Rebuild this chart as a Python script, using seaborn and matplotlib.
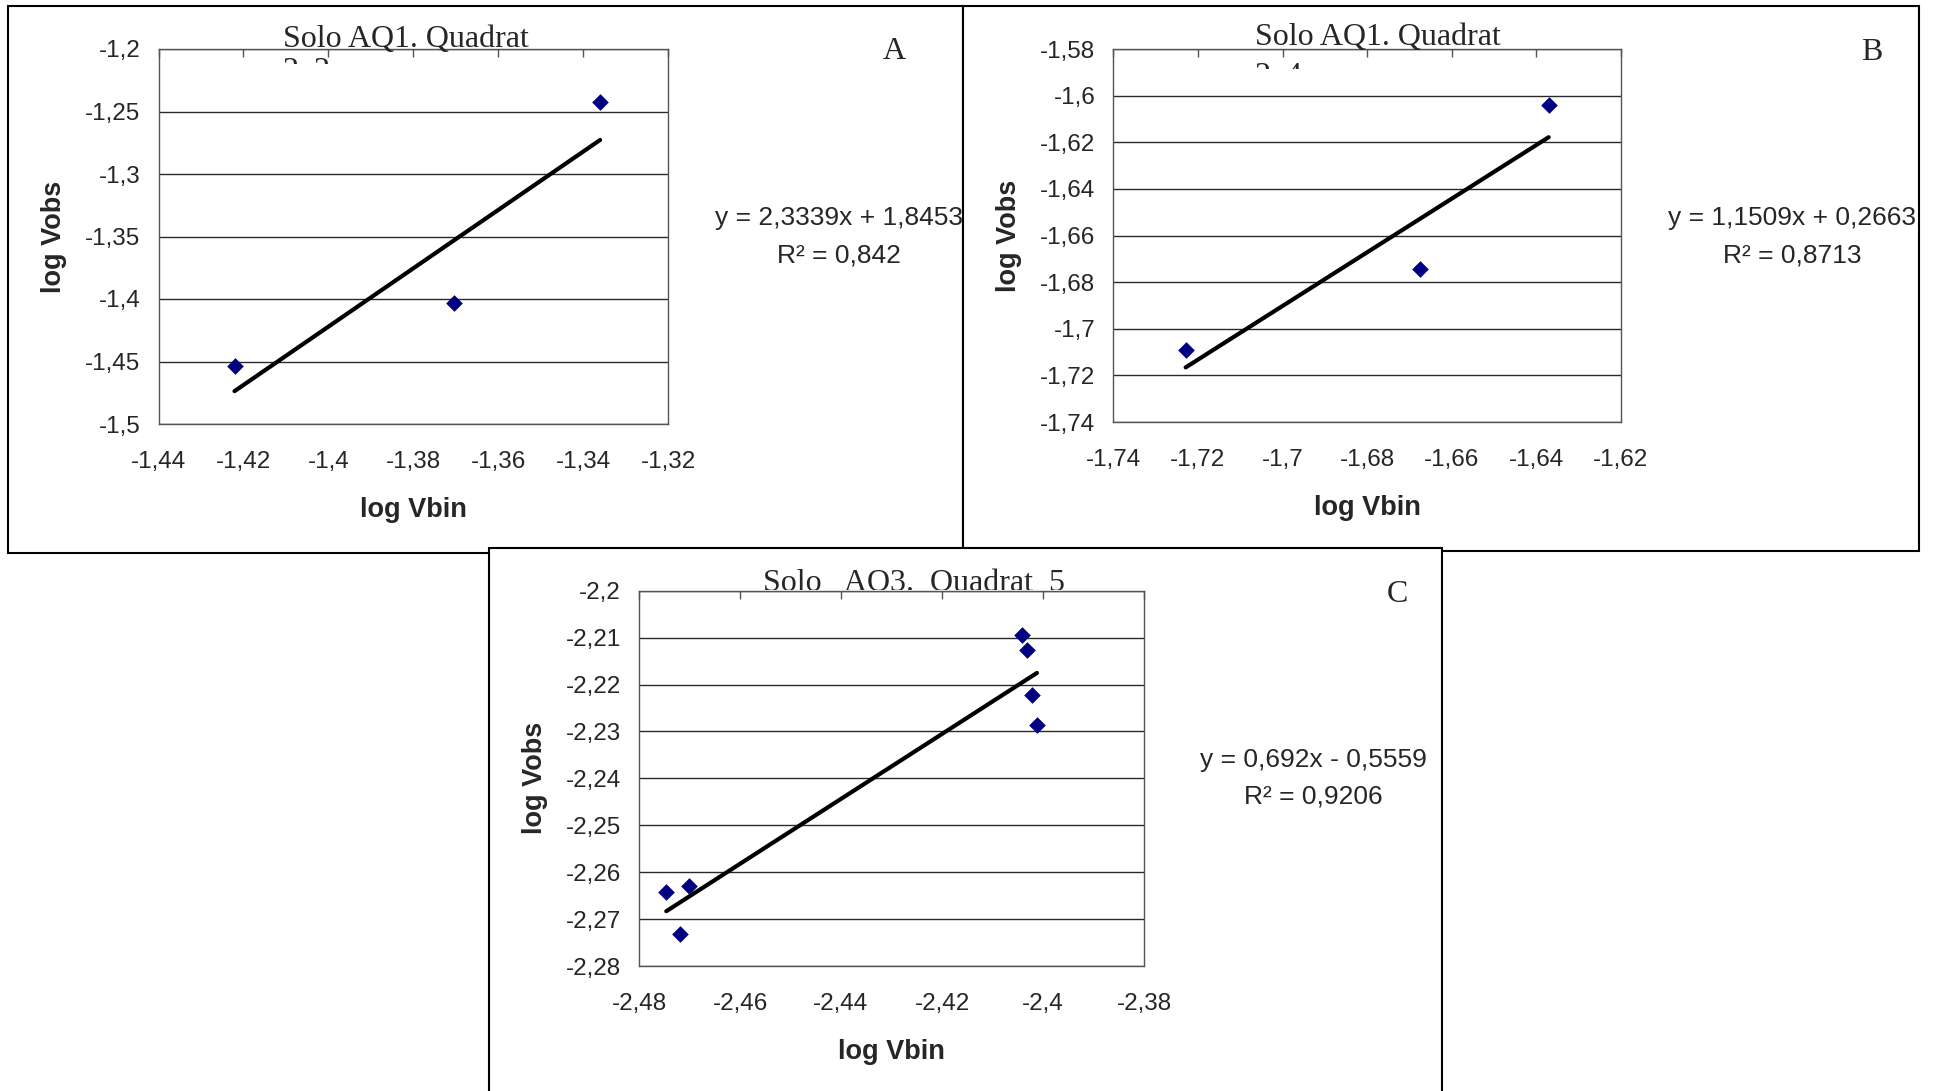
import matplotlib
matplotlib.use("Agg")
import matplotlib.pyplot as plt
import seaborn as sns
import numpy as np
import pandas as pd
from matplotlib.patches import Rectangle
from matplotlib.transforms import Bbox, TransformedBbox
from matplotlib.ticker import FixedLocator, FixedFormatter

# ---- Panel A: Solo AQ1, quadrat 2x2 ----
a_log_vbin = [-1.4221, -1.3703, -1.3360]
a_log_vobs = [-1.4539, -1.4031, -1.2427]
a_fit = [2.3339, 1.8453, 0.842]          # slope, intercept, R²
a_xticks = [-1.44, -1.42, -1.40, -1.38, -1.36, -1.34, -1.32]
a_xlabels = ["-1,44", "-1,42", "-1,4", "-1,38", "-1,36", "-1,34", "-1,32"]
a_yticks = [-1.50, -1.45, -1.40, -1.35, -1.30, -1.25, -1.20]
a_ylabels = ["-1,5", "-1,45", "-1,4", "-1,35", "-1,3", "-1,25", "-1,2"]

# ---- Panel B: Solo AQ1, quadrat 2x4 ----
b_log_vbin = [-1.7229, -1.6674, -1.6371]
b_log_vobs = [-1.7092, -1.6744, -1.6042]
b_fit = [1.1509, 0.2663, 0.8713]
b_xticks = [-1.74, -1.72, -1.70, -1.68, -1.66, -1.64, -1.62]
b_xlabels = ["-1,74", "-1,72", "-1,7", "-1,68", "-1,66", "-1,64", "-1,62"]
b_yticks = [-1.74, -1.72, -1.70, -1.68, -1.66, -1.64, -1.62, -1.60, -1.58]
b_ylabels = ["-1,74", "-1,72", "-1,7", "-1,68", "-1,66", "-1,64", "-1,62", "-1,6", "-1,58"]

# ---- Panel C: Solo AQ3, quadrat 5 ----
c_log_vbin = [-2.4746, -2.4701, -2.4718, -2.4041, -2.4032, -2.4021, -2.4012]
c_log_vobs = [-2.2643, -2.2630, -2.2732, -2.2095, -2.2127, -2.2222, -2.2287]
c_fit = [0.692, -0.5559, 0.9206]
c_xticks = [-2.48, -2.46, -2.44, -2.42, -2.40, -2.38]
c_xlabels = ["-2,48", "-2,46", "-2,44", "-2,42", "-2,4", "-2,38"]
c_yticks = [-2.28, -2.27, -2.26, -2.25, -2.24, -2.23, -2.22, -2.21, -2.20]
c_ylabels = ["-2,28", "-2,27", "-2,26", "-2,25", "-2,24", "-2,23", "-2,22", "-2,21", "-2,2"]

W, H = 1936, 1091

sns.set_style("white")
plt.rcParams["font.family"] = ["Liberation Sans", "DejaVu Sans"]

fig = plt.figure(figsize=(W / 100, H / 100), dpi=100)


def px_rect(left, top, right, bottom):
    return [left / W, 1 - bottom / H, (right - left) / W, (bottom - top) / H]


def fmt_num(v, digits):
    return f"{abs(v):.{digits}f}".rstrip("0").rstrip(".").replace(".", ",")


def equation_text(fit):
    slope, intercept, r2 = fit
    sign = "+" if intercept >= 0 else "-"
    return (f"y = {fmt_num(slope, 4)}x {sign} {fmt_num(intercept, 4)}",
            f"R² = {fmt_num(r2, 4)}")


def add_frame(left, top, right, bottom, z):
    fig.add_artist(Rectangle((left / W, 1 - bottom / H), (right - left) / W,
                             (bottom - top) / H, transform=fig.transFigure,
                             facecolor="white", edgecolor="black",
                             linewidth=1.5, zorder=z))


def clipped_text(x, baseline, s, clip_y):
    t = fig.text(x / W, 1 - baseline / H, s, fontsize=23,
                 family=["Liberation Serif", "DejaVu Serif"],
                 ha="left", va="baseline")
    t.set_clip_box(TransformedBbox(Bbox.from_extents(0, 1 - clip_y / H, 1, 1),
                                   fig.transFigure))
    t.set_clip_on(True)
    return t


def draw_panel(rect, xs, ys, fit, xticks, xlabels, yticks, ylabels):
    ax = fig.add_axes(px_rect(*rect))
    df = pd.DataFrame({"log Vbin": xs, "log Vobs": ys})
    slope, intercept, _ = fit
    xfit = np.array([min(xs), max(xs)])
    sns.lineplot(x=xfit, y=slope * xfit + intercept, ax=ax, color="black",
                 lw=3.0, solid_capstyle="round", zorder=2)
    sns.scatterplot(data=df, x="log Vbin", y="log Vobs", ax=ax, marker="D",
                    s=72, color="#000080", linewidth=0, zorder=3)
    ax.set_xlim(xticks[0], xticks[-1])
    ax.set_ylim(yticks[0], yticks[-1])
    ax.xaxis.set_major_locator(FixedLocator(xticks))
    ax.xaxis.set_major_formatter(FixedFormatter(xlabels))
    ax.yaxis.set_major_locator(FixedLocator(yticks))
    ax.yaxis.set_major_formatter(FixedFormatter(ylabels))
    ax.tick_params(axis="x", direction="in", top=True, bottom=False,
                   labeltop=False, labelbottom=True, length=5.8, width=1,
                   color="#555555", pad=19.5, labelsize=17.5)
    ax.tick_params(axis="y", left=False, length=0, pad=13,
                   labelsize=17.5)
    ax.grid(True, axis="y", color="#2a2a2a", lw=1.0)
    ax.grid(False, axis="x")
    ax.set_axisbelow(True)
    for sp in ax.spines.values():
        sp.set_color("#555555")
        sp.set_linewidth(1.0)
    ax.set_xlabel("log Vbin", fontsize=19.5, fontweight="bold")
    ax.set_ylabel("log Vobs", fontsize=19.5, fontweight="bold")
    ax.xaxis.set_label_coords(0.5, -0.23)
    ax.xaxis.label.set_verticalalignment("center")
    ax.yaxis.set_label_coords(-0.205, 0.5)
    ax.yaxis.label.set_verticalalignment("center")
    ax.yaxis.label.set_horizontalalignment("center")
    return ax


def add_equation(cx, base1, base2, fit):
    l1, l2 = equation_text(fit)
    fig.text(cx / W, 1 - base1 / H, l1, fontsize=19, ha="center", va="baseline")
    fig.text(cx / W, 1 - base2 / H, l2, fontsize=19, ha="center", va="baseline")


def add_letter(x, baseline, s):
    fig.text(x / W, 1 - baseline / H, s, fontsize=23,
             family=["Liberation Serif", "DejaVu Serif"],
             ha="left", va="baseline")


# outer frames, C sits on top of A and B
add_frame(8, 6, 963, 553, -5)
add_frame(963, 6, 1919, 551, -4)
add_frame(489, 548, 1442, 1100, -3)

draw_panel((158.5, 49, 668, 424), a_log_vbin, a_log_vobs, a_fit,
           a_xticks, a_xlabels, a_yticks, a_ylabels)
draw_panel((1113.3, 49, 1621, 422), b_log_vbin, b_log_vobs, b_fit,
           b_xticks, b_xlabels, b_yticks, b_ylabels)
draw_panel((639, 590.7, 1144, 966), c_log_vbin, c_log_vobs, c_fit,
           c_xticks, c_xlabels, c_yticks, c_ylabels)

# panel titles (second line partly hidden, as in the plot boxes)
clipped_text(283, 47, "Solo AQ1. Quadrat", 80)
clipped_text(283, 79, "2x2", 64)
clipped_text(1255, 44.5, "Solo AQ1. Quadrat", 80)
clipped_text(1255, 83.5, "2x4", 69)
clipped_text(763, 591, "Solo   AQ3.  Quadrat  5", 590)

add_letter(882.7, 59.3, "A")
add_letter(1861, 60, "B")
add_letter(1387, 602, "C")

add_equation(839, 225, 262, a_fit)
add_equation(1792, 225, 262.5, b_fit)
add_equation(1313, 766.6, 803.5, c_fit)

fig.savefig("out.png", dpi=100)
